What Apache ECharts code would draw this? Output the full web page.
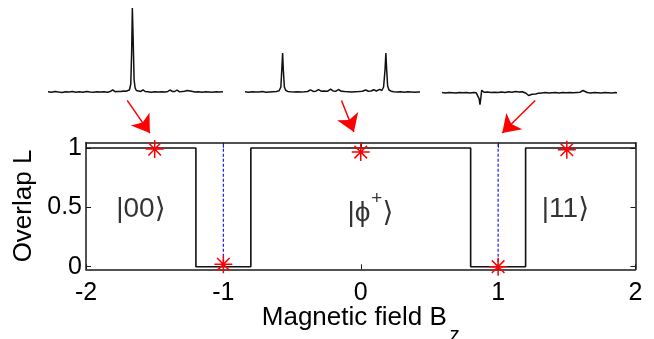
<!DOCTYPE html>
<html><head><meta charset="utf-8">
<script src="https://cdn.jsdelivr.net/npm/echarts@6/dist/echarts.min.js"></script>
<style>html,body{margin:0;padding:0;background:#fff}#c{width:654px;height:339px}</style>
</head><body><div id="c"></div>
<script>
// ---- data ----
const xTicks = [-2, -1, 0, 1, 2];
const yTicks = [0, 0.5, 1];
const stepEdges = [-2, -1.2, -0.8, 0.8, 1.2, 2];
const stepLevels = [1, 0, 1, 0, 1];
const starX = [-1.5, -1, 0, 1, 1.5];
const starY = [0.99, 0.02, 0.965, 0, 0.985];
const dashX = [-1, 1];
const stateText = ['|00⟩', '|ϕ{sup|+}⟩', '|11⟩'];
const statePos = [[-1.6, 0.48], [0.07, 0.45], [1.49, 0.48]];
const arrowFrom = [[-1.70, 1.40], [-0.14, 1.40], [1.27, 1.40]];
const arrowTo = [[-1.535, 1.125], [-0.05, 1.135], [1.03, 1.125]];
const xLabelText = 'Magnetic field B{sub|z}';
const yLabelText = 'Overlap L';

const spec1 = [[0,0.3],[2,-0.2],[4,0.5],[6,0],[8,-0.4],[10,0.3],[12,-0.1],[14,0.4],[16,-0.3],[18,0.2],[20,-0.2],[22,0.6],[24,0],[26,-0.3],[28,0.2],[30,-0.1],[32,0.3],[34,-0.2],[35.5,0.4],[37,2.2],[38.3,0.3],[39.5,0.6],[40.6,2.4],[41.8,0.5],[43,1],[43.6,2.6],[44.5,0.8],[45.5,1.3],[46.5,2],[47.3,8],[47.8,40],[48.2,84],[48.7,50],[49.2,12],[49.8,4],[50.5,1.5],[51.5,0.3],[53,0.6],[54.3,2.2],[55.5,0.5],[57,0.2],[59,-0.3],[61,0.3],[63,-0.1],[65,0.2],[67,0.1],[68.5,0.6],[69.7,2],[71,0.6],[72.5,0.5],[73.7,2],[75,0.3],[76.5,0.4],[78,0.8],[79.5,1.5],[80.6,3],[82,0.8],[84,0.1],[86,0.3],[88,-0.2],[90,0.3],[92,0],[94,-0.3],[96,0.2],[98,-0.1],[100,0.2]];
const spec2 = [[0,0.2],[2,-0.2],[4,0.3],[6,-0.1],[8,0],[10,0.4],[12,-0.2],[14,0.1],[16,0.3],[18,0.5],[19.5,1.2],[20.5,5],[21.1,25],[21.5,39],[21.9,22],[22.5,5],[23.3,1.5],[24.5,0.6],[26,0.2],[28,-0.1],[30,0.3],[32,0],[34,0.2],[35.8,0.5],[37.4,2.2],[39,0.6],[40.5,0.8],[42,2.4],[43.5,0.8],[45,1],[46,2.2],[47.3,0.8],[48.9,2.8],[50.5,0.9],[52,0.8],[53.4,2.5],[55,0.7],[57,0.4],[59,0.3],[61,-0.1],[63,0.3],[65,0.4],[67,0.8],[69,2],[70.5,0.8],[72,1],[73.6,2.3],[75,1],[76,1.5],[77,2.6],[78.2,1.5],[79.2,5],[80,22],[80.5,39],[80.9,24],[81.5,6],[82.3,2],[83.5,0.8],[85,0.3],[87,0],[89,0.3],[91,-0.2],[93,0.2],[95,0],[97,-0.3],[99,0.1],[100,0]];
const spec3 = [[0,0.2],[2,-0.2],[4,0.3],[6,0],[8,-0.3],[10,0.2],[12,0],[14,0.3],[16,-0.2],[18,0.1],[19.5,0],[20.5,-0.5],[21.2,-6],[21.7,-12],[22.2,-5],[22.7,2.5],[23.3,2.8],[24,0.5],[26,0.6],[28,0.2],[30,0.5],[32,0.2],[34,0.8],[36,0.3],[38,1],[40,0.4],[42,1.2],[44,0.6],[46,0.9],[48,-0.5],[49.5,-2.8],[50.5,-1],[51.5,-1.5],[52.5,-3],[53.5,-1.2],[55,-0.6],[57,-0.2],[59,0.2],[61,-0.3],[63,0],[65,0.2],[67,-0.2],[69,0.3],[71,0],[73,0.2],[75,-0.1],[77,0.3],[79,0.5],[80.5,2.2],[81.5,0.6],[83,0.2],[85,-0.2],[87,0.3],[89,0],[91,-0.3],[93,0.2],[95,0],[97,-0.2],[99,0.1],[100,0]];

// ---- chart ----
const FONT = 'Liberation Sans, Arial, DejaVu Sans, sans-serif';
const AX = '#1a1a1a';
const yMin = -0.022, yMax = 1.044;

const stepData = [];
stepLevels.forEach((lv, i) => { stepData.push([stepEdges[i], lv]); stepData.push([stepEdges[i + 1], lv]); });

const chart = echarts.init(document.getElementById('c'), null, { renderer: 'canvas' });

function hiddenAxis(min, max, gi) {
  return { type: 'value', gridIndex: gi, min: min, max: max, show: false };
}

const specGrid = (left, top) => ({ left: left, top: top, width: 175, height: 110, outerBoundsMode: 'none' });

const option = {
  animation: false,
  backgroundColor: '#fff',
  grid: [
    { left: 86, top: 142.7, width: 549.5, height: 126.6, outerBoundsMode: 'none' },
    specGrid(48, 2),
    specGrid(245, 2),
    specGrid(442, 2.7)
  ],
  xAxis: [
    {
      type: 'value', gridIndex: 0, min: -2, max: 2, interval: 1, position: 'bottom',
      axisLine: { show: true, onZero: false, lineStyle: { color: AX, width: 1.5 } },
      axisTick: { show: true, inside: true, length: 5, lineStyle: { color: AX, width: 1 } },
      axisLabel: { show: true, margin: 11, color: '#000', fontSize: 25, fontFamily: FONT },
      splitLine: { show: false },
      name: xLabelText, nameLocation: 'middle', nameGap: 33.5, nameMoveOverlap: false,
      nameTextStyle: {
        color: '#000', fontSize: 26, fontFamily: FONT, lineHeight: 30,
        rich: { sub: { fontSize: 20, fontFamily: FONT, color: '#000', lineHeight: 24, padding: [36, 0, 0, 3] } }
      }
    },
    {
      type: 'value', gridIndex: 0, min: -2, max: 2, interval: 1, position: 'top',
      axisLine: { show: true, onZero: false, lineStyle: { color: AX, width: 1.5 } },
      axisTick: { show: true, inside: true, length: 5, lineStyle: { color: AX, width: 1 } },
      axisLabel: { show: false }, splitLine: { show: false }
    },
    hiddenAxis(0, 100, 1), hiddenAxis(0, 100, 2), hiddenAxis(0, 100, 3)
  ],
  yAxis: [
    {
      type: 'value', gridIndex: 0, min: yMin, max: yMax, position: 'left',
      axisLine: { show: true, onZero: false, lineStyle: { color: AX, width: 1.5 } },
      axisTick: { show: true, inside: true, length: 5, customValues: yTicks, lineStyle: { color: AX, width: 1 } },
      axisLabel: { show: true, margin: 4, customValues: yTicks, color: '#000', fontSize: 25, fontFamily: FONT },
      splitLine: { show: false },
      name: yLabelText, nameLocation: 'middle', nameGap: 47, nameMoveOverlap: false,
      nameTextStyle: { color: '#000', fontSize: 26, fontFamily: FONT, lineHeight: 30 }
    },
    {
      type: 'value', gridIndex: 0, min: yMin, max: yMax, position: 'right',
      axisLine: { show: true, onZero: false, lineStyle: { color: AX, width: 1.5 } },
      axisTick: { show: true, inside: true, length: 5, customValues: yTicks, lineStyle: { color: AX, width: 1 } },
      axisLabel: { show: false }, splitLine: { show: false }
    },
    hiddenAxis(-20, 90, 1), hiddenAxis(-20, 90, 2), hiddenAxis(-20, 90, 3)
  ],
  series: [
    {
      type: 'line', xAxisIndex: 0, yAxisIndex: 0, data: stepData, showSymbol: false, symbol: 'none',
      lineStyle: { color: '#111', width: 1.6 }, z: 3, clip: false
    },
    ...dashX.map(x => ({
      type: 'line', xAxisIndex: 0, yAxisIndex: 0, data: [[x, 0], [x, yMax]], symbol: 'none',
      lineStyle: { color: '#1a1aff', width: 1.2, type: [3, 2] }, z: 4
    })),
    {
      type: 'scatter', xAxisIndex: 0, yAxisIndex: 0,
      data: starX.map((x, i) => [x, starY[i]]),
      symbol: 'path://M10,0L10,20M0,10L20,10M3,3L17,17M3,17L17,3', symbolSize: 18,
      itemStyle: { color: 'rgba(0,0,0,0)', borderColor: '#ff0000', borderWidth: 1.5, opacity: 1 }, z: 6
    },
    {
      type: 'scatter', xAxisIndex: 0, yAxisIndex: 0, symbolSize: 1,
      itemStyle: { color: 'rgba(0,0,0,0)' }, z: 5,
      data: statePos.map((p, i) => ({ value: p, label: { formatter: stateText[i] } })),
      label: {
        show: true, position: 'inside', color: '#000', fontSize: 28, fontFamily: FONT, lineHeight: 34,
        rich: { sup: { fontSize: 19, fontFamily: FONT, color: '#000', lineHeight: 20, padding: [0, 0, 28, 1] } }
      }
    },
    {
      type: 'lines', coordinateSystem: 'cartesian2d', xAxisIndex: 0, yAxisIndex: 0, clip: false,
      symbol: ['none', 'arrow'], symbolSize: [1, 17], z: 7,
      lineStyle: { color: '#ff0000', width: 1.5, opacity: 1 },
      itemStyle: { color: '#ff0000' },
      data: arrowFrom.map((f, i) => ({ coords: [f, arrowTo[i]] }))
    },
    ...[spec1, spec2, spec3].map((s, i) => ({
      type: 'line', xAxisIndex: i + 2, yAxisIndex: i + 2, data: s, symbol: 'none', clip: false,
      lineStyle: { color: '#111', width: 1.5 }
    }))
  ]
};
chart.setOption(option);
</script></body></html>
